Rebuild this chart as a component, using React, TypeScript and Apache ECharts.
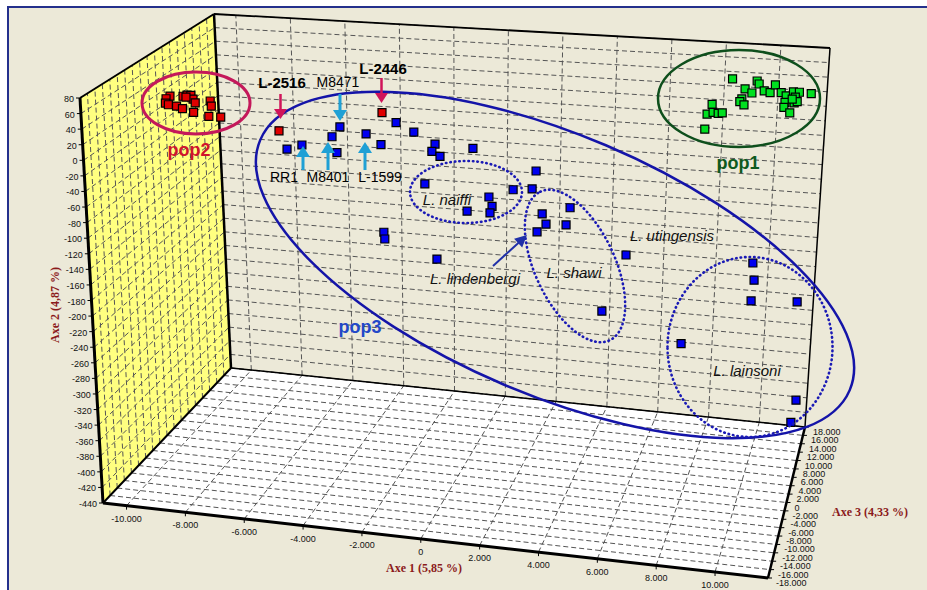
import { useEffect, useRef } from "react";
import * as echarts from "echarts";

// ---- axis ranges and tick values ----
const AXE1_RANGE: [number, number] = [-10800, 11800];
const AXE2_RANGE: [number, number] = [-440, 80];
const AXE3_RANGE: [number, number] = [-18000, 18000];
const axe1Ticks = [-10000, -8000, -6000, -4000, -2000, 0, 2000, 4000, 6000, 8000, 10000];
const axe2Ticks = [80, 60, 40, 20, 0, -20, -40, -60, -80, -100, -120, -140, -160, -180, -200, -220, -240, -260, -280, -300, -320, -340, -360, -380, -400, -420, -440];
const axe3Ticks = [18000, 16000, 14000, 12000, 10000, 8000, 6000, 4000, 2000, 0, -2000, -4000, -6000, -8000, -10000, -12000, -14000, -16000, -18000];

// ---- data: [Axe 1, Axe 2]; depth along Axe 3 cannot be read off the projection ----
const POP1_DEPTH = 18000;
const pop1Points = [
  [8290, 30], [7580, -7], [7410, -21], [7630, -18], [7820, -19], [7970, -18], [7350, -42],
  [8770, 17], [9030, 12], [8670, 3], [8600, -1], [8760, -5], [9200, 29], [9280, 25],
  [9480, 16], [9700, 14], [9880, 25], [10110, 15], [10300, 11], [10270, 2], [10240, -5],
  [10470, -12], [10560, 17], [10780, 17], [10640, 10], [10610, 2], [10720, 4], [11220, 16], [10530, 7],
];
const POP2_DEPTH = 0;
const pop2Points = [
  [-10080, 27], [-10220, 23], [-10250, 17], [-10150, 15], [-9870, 14], [-9670, 11], [-9630, 28],
  [-9490, 30], [-9360, 30], [-9290, 25], [-9220, 20], [-9290, 7], [-8700, 24], [-8670, 17],
  [-8770, 3], [-8360, 3], [-9530, 27],
];
const POP3_DEPTH = 0;
const pop3Points = [
  [-6100, -34], [-5580, -27], [-4250, 1], [-4530, -13], [-4370, -34], [-3350, -6], [-2840, -19],
  [-2310, 12], [-1700, 1], [-970, -13], [-1080, -23], [-800, -29], [340, -15], [-1330, -67],
  [900, -78], [1010, -90], [940, -99], [140, -99], [1740, -66], [2530, -39], [2400, -63],
  [2760, -95], [2900, -108], [2590, -119], [3730, -84], [3600, -107], [-2780, -136], [-2750, -145],
  [-920, -166], [5720, -140], [4920, -216], [10170, -137], [10240, -159], [10170, -186],
  [11790, -182], [7760, -249], [11940, -308], [11800, -337],
];
// red-coded strains inside pop3: L-2516, L-2446
const markedPoints = [[-6360, -10], [-2790, 24]];

// ---- screen calibration of the box (layout) ----
const FRONT = { bl: [103, 503], br: [768, 578], tl: [80, 98], tr: [787, 148] };
const BACK = { bl: [231, 368], br: [805, 427], tl: [214, 14], tr: [830, 48] };

function project(a1: number, a2: number, a3: number): [number, number] {
  const u = (a1 - AXE1_RANGE[0]) / (AXE1_RANGE[1] - AXE1_RANGE[0]);
  const v = (a2 - AXE2_RANGE[0]) / (AXE2_RANGE[1] - AXE2_RANGE[0]);
  const w = (a3 - AXE3_RANGE[0]) / (AXE3_RANGE[1] - AXE3_RANGE[0]);
  const bil = (q: any) =>
    [0, 1].map(
      (i) => (1 - u) * (1 - v) * q.bl[i] + u * (1 - v) * q.br[i] + (1 - u) * v * q.tl[i] + u * v * q.tr[i]
    );
  const f = bil(FRONT);
  const b = bil(BACK);
  return [f[0] + (b[0] - f[0]) * w, f[1] + (b[1] - f[1]) * w];
}

function fmt(n: number): string {
  const s = String(Math.abs(n)).replace(/\B(?=(\d{3})+(?!\d))/g, ".");
  return (n < 0 ? "-" : "") + s;
}

function seg(p: number[], q: number[], stroke: string, lineWidth: number, z: number, lineDash?: number[]) {
  return {
    type: "line",
    z,
    silent: true,
    shape: { x1: p[0], y1: p[1], x2: q[0], y2: q[1] },
    style: { stroke, lineWidth, lineDash: lineDash || null, lineCap: "butt" },
  };
}

function txt(text: string, x: number, y: number, o: any = {}) {
  return {
    type: "text",
    z: o.z ?? 10,
    silent: true,
    x,
    y,
    rotation: o.rotation || 0,
    style: {
      text,
      x: 0,
      y: 0,
      fill: o.color || "#000",
      fontSize: o.size || 12,
      fontFamily: o.family || "Liberation Sans, Arial, sans-serif",
      fontWeight: o.weight || "normal",
      fontStyle: o.style || "normal",
      textAlign: o.align || "center",
      textVerticalAlign: "middle",
    },
  };
}

function ellipse(cx: number, cy: number, rx: number, ry: number, rotDeg: number, stroke: string, lw: number, dash?: number[]) {
  return {
    type: "ellipse",
    z: 9,
    silent: true,
    x: cx,
    y: cy,
    rotation: (-rotDeg * Math.PI) / 180,
    shape: { cx: 0, cy: 0, rx, ry },
    style: { fill: "none", stroke, lineWidth: lw, lineDash: dash || null, lineCap: dash ? "round" : "butt" },
  };
}

function arrow(x1: number, y1: number, x2: number, y2: number, color: string, lw: number, hl: number, hw: number) {
  const dx = x2 - x1;
  const dy = y2 - y1;
  const L = Math.hypot(dx, dy);
  const ux = dx / L;
  const uy = dy / L;
  const bx = x2 - ux * hl;
  const by = y2 - uy * hl;
  return [
    seg([x1, y1], [bx + ux, by + uy], color, lw, 9),
    {
      type: "polygon",
      z: 9,
      silent: true,
      shape: { points: [[x2, y2], [bx - uy * hw, by + ux * hw], [bx + uy * hw, by - ux * hw]] },
      style: { fill: color, stroke: "none" },
    },
  ];
}

function buildGraphics() {
  const [x0, x1] = AXE1_RANGE;
  const [y0, y1] = AXE2_RANGE;
  const [z0, z1] = AXE3_RANGE;
  const g: any[] = [];
  g.push({
    type: "rect",
    z: 0,
    silent: true,
    shape: { x: 8, y: 7, width: 960, height: 620 },
    style: { fill: "#ECE9D8", stroke: "#24308C", lineWidth: 2 },
  });
  const poly = (pts: number[][], fill: string) => ({
    type: "polygon",
    z: 1,
    silent: true,
    shape: { points: pts },
    style: { fill, stroke: "none" },
  });
  g.push(poly([project(x0, y0, z0), project(x0, y1, z0), project(x0, y1, z1), project(x0, y0, z1)], "#FFFF80"));
  g.push(poly([project(x0, y0, z1), project(x1, y0, z1), project(x1, y1, z1), project(x0, y1, z1)], "#ECE9D8"));
  g.push(poly([project(x0, y0, z0), project(x1, y0, z0), project(x1, y0, z1), project(x0, y0, z1)], "#FFFFFF"));

  const gc = "#555555";
  const dash = [5, 3];
  // left wall
  axe2Ticks.forEach((t) => g.push(seg(project(x0, t, z0), project(x0, t, z1), gc, 1, 2, dash)));
  axe3Ticks.forEach((t) => g.push(seg(project(x0, y0, t), project(x0, y1, t), gc, 1, 2, dash)));
  // back wall
  axe1Ticks.forEach((t) => g.push(seg(project(t, y0, z1), project(t, y1, z1), gc, 1, 2, dash)));
  axe2Ticks.forEach((t) => g.push(seg(project(x0, t, z1), project(x1, t, z1), gc, 1, 2, dash)));
  // floor
  axe1Ticks.forEach((t) => g.push(seg(project(t, y0, z0), project(t, y0, z1), gc, 1, 2, dash)));
  axe3Ticks.forEach((t) => g.push(seg(project(x0, y0, t), project(x1, y0, t), gc, 1, 2, dash)));

  // box edges
  const E = (a: number[], b: number[], w: number) => g.push(seg(project(a[0], a[1], a[2]), project(b[0], b[1], b[2]), "#000", w, 3));
  E([x0, y1, z1], [x1, y1, z1], 1.8);
  E([x1, y1, z1], [x1, y0, z1], 1.5);
  E([x0, y0, z1], [x1, y0, z1], 1.5);
  E([x0, y1, z0], [x0, y1, z1], 2);
  E([x0, y0, z0], [x0, y0, z1], 2);
  E([x0, y0, z1], [x0, y1, z1], 2.5);
  E([x0, y0, z0], [x0, y1, z0], 3);
  E([x0, y0, z0], [x1, y0, z0], 3);
  E([x1, y0, z0], [x1, y0, z1], 2.5);

  // ticks and tick labels
  const lab = { size: 9, family: "Liberation Sans, Arial, sans-serif", z: 4, color: "#111" };
  axe2Ticks.forEach((t) => {
    const p = project(x0, t, z0);
    g.push(seg(p, [p[0] - 4, p[1]], "#000", 1, 3));
    g.push(txt(fmt(t), p[0] - 6, p[1] + 1, { ...lab, align: "right" }));
  });
  axe1Ticks.forEach((t) => {
    const p = project(t, y0, z0);
    g.push(seg(p, [p[0], p[1] + 4], "#000", 1, 3));
    g.push(txt(fmt(t), p[0], p[1] + 13, { ...lab }));
  });
  axe3Ticks.forEach((t) => {
    const p = project(x1, y0, t);
    g.push(seg(p, [p[0] + 4, p[1]], "#000", 1, 3));
    g.push(txt(fmt(t), p[0] + 8, p[1] + 5, { ...lab, align: "left" }));
  });

  // axis titles
  const tt = { size: 12, family: "Liberation Serif, Times New Roman, serif", weight: "bold", color: "#8B1A1A", z: 4 };
  g.push(txt("Axe 1 (5,85 %)", 424, 568, tt));
  g.push(txt("Axe 3 (4,33 %)", 832, 512, { ...tt, align: "left" }));
  g.push(txt("Axe 2 (4,87 %)", 55, 305, { ...tt, rotation: Math.PI / 2 }));

  // annotations: groups
  g.push(ellipse(196, 103, 54, 31, 0, "#C4185A", 3));
  g.push(ellipse(739, 98.5, 81, 48.5, 0, "#0E4F1C", 2.5));
  g.push(ellipse(555, 265, 320, 130, 23, "#1414A8", 2.5));
  const dot = [0.5, 4];
  g.push(ellipse(466, 192, 56, 31, 0, "#1A1AB5", 2.6, dot));
  g.push(ellipse(575, 266, 82, 40, 65, "#1A1AB5", 2.6, dot));
  g.push(ellipse(750, 347, 82.5, 90, 0, "#1A1AB5", 2.6, dot));

  g.push(txt("pop2", 189, 150, { size: 18, weight: "bold", color: "#D0142C" }));
  g.push(txt("pop1", 738, 163, { size: 18, weight: "bold", color: "#0E5A1E" }));
  g.push(txt("pop3", 360, 327, { size: 18, weight: "bold", color: "#2348C8" }));

  g.push(txt("L-2516", 282, 82, { size: 15, weight: "bold" }));
  g.push(txt("L-2446", 383, 68, { size: 15, weight: "bold" }));
  g.push(txt("M8471", 338, 82, { size: 14 }));
  g.push(txt("RR1", 284, 177, { size: 14 }));
  g.push(txt("M8401", 328, 177, { size: 14 }));
  g.push(txt("L-1599", 380, 177, { size: 14 }));

  const it = { size: 15, style: "italic", color: "#111" };
  g.push(txt("L. naiffi", 447, 199, it));
  g.push(txt("L. lindenbergi", 475, 278, it));
  g.push(txt("L. shawi", 574, 272, it));
  g.push(txt("L. utingensis", 672, 235, it));
  g.push(txt("L. lainsoni", 747, 370, it));

  const red = "#D0145A";
  const cyan = "#1FA0D5";
  g.push(...arrow(280.5, 94, 280.5, 119, red, 2.5, 10, 6.5));
  g.push(...arrow(381.5, 78, 381.5, 103, red, 2.5, 10, 6.5));
  g.push(...arrow(340, 94, 340, 121, cyan, 3, 11, 7));
  g.push(...arrow(303, 170, 303, 146, cyan, 3, 11, 7));
  g.push(...arrow(328, 170, 328, 142, cyan, 3, 11, 7));
  g.push(...arrow(365, 170, 365, 142, cyan, 3, 11, 7));
  g.push(...arrow(493, 266, 527, 235, "#2030A8", 2, 12, 6));
  return g;
}

export default function App() {
  const ref = useRef<HTMLDivElement>(null);
  useEffect(() => {
    if (!ref.current) return;
    const chart = echarts.init(ref.current, null, { renderer: "svg" });
    const sq = (color: string) => ({
      type: "scatter",
      symbol: "rect",
      symbolSize: 8,
      z: 5,
      silent: true,
      itemStyle: { color, borderColor: "#000", borderWidth: 1.2, opacity: 1 },
    });
    chart.setOption({
      animation: false,
      backgroundColor: "#FFFFFF",
      grid: { left: 0, right: 0, top: 0, bottom: 0 },
      xAxis: { type: "value", min: 0, max: 927, show: false },
      yAxis: { type: "value", min: 0, max: 590, inverse: true, show: false },
      graphic: { elements: buildGraphics() },
      series: [
        { ...sq("#00E020"), name: "pop1", data: pop1Points.map(([a, b]) => project(a, b, POP1_DEPTH)) },
        { ...sq("#E00000"), name: "pop2", data: pop2Points.map(([a, b]) => project(a, b, POP2_DEPTH)) },
        { ...sq("#0000F0"), name: "pop3", data: pop3Points.map(([a, b]) => project(a, b, POP3_DEPTH)) },
        { ...sq("#E00000"), name: "marked", data: markedPoints.map(([a, b]) => project(a, b, POP3_DEPTH)) },
      ],
    });
    return () => chart.dispose();
  }, []);
  return <div ref={ref} style={{ position: "fixed", left: 0, top: 0, width: 927, height: 590 }} />;
}
